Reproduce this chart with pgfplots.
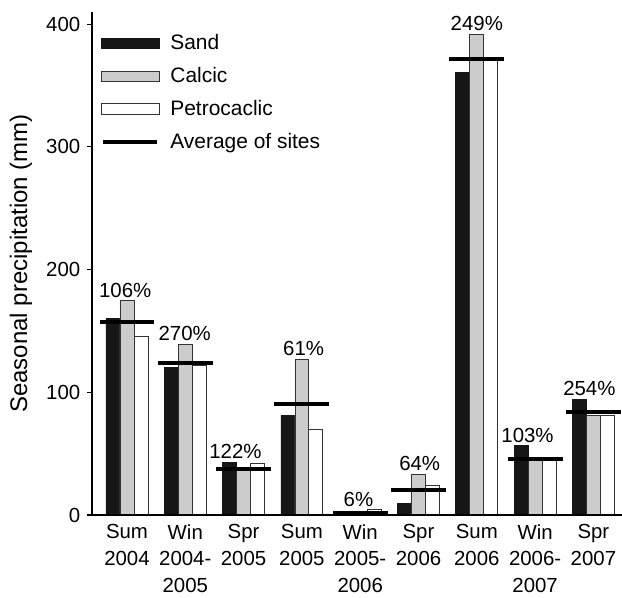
\documentclass[border=0pt]{standalone}
\usepackage{pgfplots}
\pgfplotsset{compat=1.18}
\usepackage{pgfplotstable}
\usepackage{fontspec}
\setmainfont{Liberation Sans}
\definecolor{barblack}{HTML}{161616}
\definecolor{bargray}{HTML}{CCCCCC}
\definecolor{baredge}{HTML}{333333}
\pgfplotstableread{
x sand calcic petro avg
0 160.5 174.6 145.3 157.3
1 120.3 138.7 122.2 124.0
2 42.9 37.5 41.8 37.7
3 81.5 127.0 69.8 90.2
4 3.0 1.5 4.8 2.0
5 9.3 33.2 23.9 20.2
6 360.9 391.9 371.7 371.7
7 56.5 45.7 45.7 45.7
8 94.4 81.4 81.4 83.9
}\datatable
\begin{document}
\fontsize{15.3pt}{19.5pt}\selectfont
\begin{tikzpicture}
\useasboundingbox (-69pt,-61.5pt) rectangle (397.5pt,386.25pt);
\begin{axis}[
  at={(0,0)}, anchor=south west,
  scale only axis, width=397.5pt, height=377.25pt,
  xmin=-0.6, xmax=8.49, ymin=0, ymax=410,
  axis on top,
  axis lines=left, axis line style={-, line width=0.8pt},
  ytick={0,100,200,300,400}, tick align=outside, major tick length=3.5pt,
  tick style={line width=0.8pt, black},
  xtick={0,1,2,3,4,5,6,7,8},
  xticklabels={{Sum\\2004},{Win\\2004-\\2005},{Spr\\2005},{Sum\\2005},{Win\\2005-\\2006},{Spr\\2006},{Sum\\2006},{Win\\2006-\\2007},{Spr\\2007}},
  x tick style={draw=none},
  xticklabel style={align=center, font=\fontsize{15.3pt}{19.7pt}\selectfont, yshift=1.5pt},
  yticklabel style={font=\fontsize{15.3pt}{19.5pt}\selectfont},
  /pgf/number format/assume math mode=true,
  ylabel={Seasonal precipitation (mm)},
  ylabel style={at={(axis description cs:-0.134,0.5)}, anchor=center, font=\fontsize{18pt}{21pt}\selectfont},
  legend style={at={(axis description cs:0,1)}, anchor=north west, xshift=6.5pt, yshift=-15.5pt,
    draw=none, fill=none, row sep=9pt, inner sep=0pt,
    nodes={inner sep=1pt, anchor=west}, font=\fontsize{15.7pt}{18pt}\selectfont},
  legend cell align=left,
]
\addplot[fill=barblack, draw=barblack, line width=0.6pt, ybar, bar width=0.24,
  legend image code/.code={\draw[fill=barblack, draw=barblack] (0pt,-4pt) rectangle (43.5pt,4pt);}]
  table[x expr=\thisrow{x}-0.24, y=sand]{\datatable};
\addlegendentry{\hspace*{7pt}Sand}
\addplot[fill=bargray, draw=baredge, line width=0.6pt, ybar, bar width=0.24,
  legend image code/.code={\draw[fill=bargray, draw=baredge, line width=0.6pt] (0pt,-4pt) rectangle (43.5pt,4pt);}]
  table[x=x, y=calcic]{\datatable};
\addlegendentry{\hspace*{7pt}Calcic}
\addplot[fill=white, draw=baredge, line width=0.6pt, ybar, bar width=0.24,
  legend image code/.code={\draw[fill=white, draw=baredge, line width=0.6pt] (0pt,-4pt) rectangle (43.5pt,4pt);}]
  table[x expr=\thisrow{x}+0.24, y=petro]{\datatable};
\addlegendentry{\hspace*{7pt}Petrocaclic}
\addplot[only marks, mark=-, mark size=20.6pt, mark options={line width=3pt, draw=black},
  legend image code/.code={\draw[line width=2.6pt] (1pt,0pt) -- (42pt,0pt);}]
  table[x=x, y=avg]{\datatable};
\addlegendentry{\hspace*{7pt}Average of sites}
\node[anchor=south, inner sep=1pt] at (axis cs:-0.03,176) {106\%};
\node[anchor=south, inner sep=1pt] at (axis cs:0.99,140.5) {270\%};
\node[anchor=south, inner sep=1pt] at (axis cs:1.86,44.5) {122\%};
\node[anchor=south, inner sep=1pt] at (axis cs:3.03,128.5) {61\%};
\node[anchor=south, inner sep=1pt] at (axis cs:3.97,5.5) {6\%};
\node[anchor=south, inner sep=1pt] at (axis cs:5.02,34.5) {64\%};
\node[anchor=south, inner sep=1pt] at (axis cs:6,393.5) {249\%};
\node[anchor=south, inner sep=1pt] at (axis cs:6.87,58) {103\%};
\node[anchor=south, inner sep=1pt] at (axis cs:7.93,96) {254\%};
\end{axis}
\end{tikzpicture}
\end{document}
